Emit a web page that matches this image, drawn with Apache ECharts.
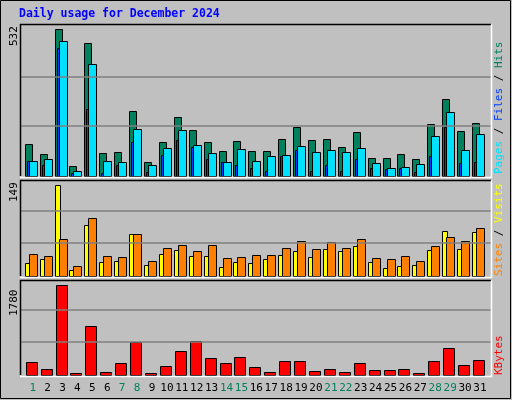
<!DOCTYPE html>
<html>
<head>
<meta charset="utf-8"/>
<title>Daily usage for December 2024</title>
<script src="https://cdn.jsdelivr.net/npm/echarts@6/dist/echarts.min.js"></script>
<style>
    html,body{margin:0;padding:0;background:#c0c0c0;}
    #chart{width:512px;height:400px;}
</style>
</head>
<body>
<div id="chart"></div>
<script>
// data
var days = [1,2,3,4,5,6,7,8,9,10,11,12,13,14,15,16,17,18,19,20,21,22,23,24,25,26,27,28,29,30,31];
var weekend = [1,7,8,14,15,21,22,28,29];
var hits   = [116,80,530,37,480,84,88,235,52,124,214,167,124,91,127,91,91,134,178,131,134,106,160,66,66,80,62,188,278,163,192];
var files  = [55,62,487,19,404,55,52,170,41,102,167,113,84,52,98,55,73,77,109,88,95,88,102,48,30,34,44,145,232,95,152];
var pages  = [55,38,462,10,242,10,38,124,16,77,131,106,62,52,41,30,19,73,95,19,41,19,62,30,26,30,16,73,178,48,52];
var visits = [21,27,149,10,83,23,24,68,18,36,42,32,32,15,23,21,27,34,41,31,44,41,49,23,13,16,18,42,73,44,71];
var sites  = [36,32,60,16,94,32,31,68,24,45,50,41,50,29,31,34,34,45,57,44,55,45,60,29,27,32,24,49,63,57,78];
var kbytes = [254,117,1780,39,959,59,235,646,39,176,469,665,333,235,352,156,59,274,274,78,117,59,235,98,98,117,39,274,528,196,293];

var C = {hits:'#00805c', files:'#00e0ff', pages:'#0040ff', visits:'#ffff00', sites:'#ff8000', kb:'#ff0000'};

function rows(){
    var out = [];
    for (var i = 0; i < days.length; i++) {
        var r = [days[i]];
        for (var a = 0; a < arguments.length; a++) r.push(arguments[a][i]);
        out.push(r);
    }
    return out;
}

// bars drawn relative to the day position, offsets in px
function makeItem(defs){
    return function(params, api){
        var kids = [];
        for (var k = 0; k < defs.length; k++) {
            var d = defs[k];
            var p0 = api.coord([api.value(0), 0]);
            var p1 = api.coord([api.value(0), api.value(k + 1)]);
            kids.push({
                type: 'rect',
                shape: {x: Math.round(p0[0] + d[0]) + 0.5, y: Math.round(p1[1]) + 0.5, width: d[1], height: Math.round(p0[1]) - Math.round(p1[1])},
                style: {fill: d[2], stroke: '#000', lineWidth: 1}
            });
        }
        return {type: 'group', children: kids};
    };
}

function gridLines(a, b){
    return {silent: true, symbol: 'none', label: {show: false},
        lineStyle: {color: '#808080', type: 'solid', width: 1.5},
        data: [{yAxis: a}, {yAxis: b}]};
}

var chart = echarts.init(document.getElementById('chart'));
var xBase = {type: 'value', min: 0.215, max: 31.74, axisLine: {show: false}, axisTick: {show: false},
    splitLine: {show: false}, axisLabel: {show: false}};
var yBase = {type: 'value', min: 0, axisLine: {show: false}, axisTick: {show: false},
    splitLine: {show: false}, axisLabel: {show: false}};

var mono = '"DejaVu Sans Mono", monospace';

var option = {
    animation: false,
    backgroundColor: '#c0c0c0',
    grid: [
        {left: 21, width: 470, top: 25, height: 151},
        {left: 21, width: 470, top: 181, height: 95},
        {left: 21, width: 470, top: 281, height: 94}
    ],
    xAxis: [
        Object.assign({gridIndex: 0}, xBase),
        Object.assign({gridIndex: 1}, xBase),
        Object.assign({gridIndex: 2}, xBase, {
            axisLabel: {show: true, customValues: days, margin: 8, fontFamily: mono, fontSize: 11,
                formatter: function(v){ return (weekend.indexOf(v) >= 0 ? '{w|' : '{d|') + v + '}'; },
                rich: {w: {color: C.hits, fontFamily: mono, fontSize: 11}, d: {color: '#000', fontFamily: mono, fontSize: 11}}}
        })
    ],
    yAxis: [
        Object.assign({gridIndex: 0, max: 546}, yBase),
        Object.assign({gridIndex: 1, max: 155}, yBase),
        Object.assign({gridIndex: 2, max: 1850}, yBase)
    ],
    graphic: [
        {type: 'rect', shape: {x: 0.5, y: 0.5, width: 510, height: 398}, style: {fill: 'none', stroke: '#000', lineWidth: 1}, z: 100},
        {type: 'polyline', shape: {points: [[20.5, 176], [20.5, 24.5], [491, 24.5]]}, style: {stroke: '#000', lineWidth: 1.5, fill: 'none'}, z: 100},
        {type: 'polyline', shape: {points: [[491.5, 24.5], [491.5, 177.5], [20, 177.5]]}, style: {stroke: '#fff', lineWidth: 1.5, fill: 'none'}, z: 100},
        {type: 'polyline', shape: {points: [[20.5, 276], [20.5, 180.5], [491, 180.5]]}, style: {stroke: '#000', lineWidth: 1.5, fill: 'none'}, z: 100},
        {type: 'polyline', shape: {points: [[491.5, 180.5], [491.5, 277.5], [20, 277.5]]}, style: {stroke: '#fff', lineWidth: 1.5, fill: 'none'}, z: 100},
        {type: 'polyline', shape: {points: [[20.5, 375], [20.5, 280.5], [491, 280.5]]}, style: {stroke: '#000', lineWidth: 1.5, fill: 'none'}, z: 100},
        {type: 'polyline', shape: {points: [[491.5, 280.5], [491.5, 376.5], [20, 376.5]]}, style: {stroke: '#fff', lineWidth: 1.5, fill: 'none'}, z: 100},
        {type: 'text', left: 19, top: 8, style: {text: 'Daily usage for December 2024', fill: '#0000ff', font: 'bold 11.5px ' + mono}},
        {type: 'text', x: 9, y: 46, rotation: Math.PI / 2, style: {text: '532', fill: '#000', font: '11px ' + mono}},
        {type: 'text', x: 9, y: 202, rotation: Math.PI / 2, style: {text: '149', fill: '#000', font: '11px ' + mono}},
        {type: 'text', x: 9, y: 316, rotation: Math.PI / 2, style: {text: '1780', fill: '#000', font: '11px ' + mono}},
        {type: 'text', x: 494, y: 174, rotation: Math.PI / 2, style: {
            text: '{p|Pages}{s| / }{f|Files}{s| / }{h|Hits}', font: '11px ' + mono,
            rich: {p: {fill: C.files, font: '11px ' + mono}, f: {fill: C.pages, font: '11px ' + mono},
                   h: {fill: C.hits, font: '11px ' + mono}, s: {fill: '#000', font: '11px ' + mono}}}},
        {type: 'text', x: 494, y: 276, rotation: Math.PI / 2, style: {
            text: '{a|Sites}{s| / }{b|Visits}', font: '11px ' + mono,
            rich: {a: {fill: C.sites, font: '11px ' + mono}, b: {fill: C.visits, font: '11px ' + mono},
                   s: {fill: '#000', font: '11px ' + mono}}}},
        {type: 'text', x: 494, y: 375, rotation: Math.PI / 2, style: {text: 'KBytes', fill: C.kb, font: '11px ' + mono}}
    ],
    series: [
        {type: 'custom', xAxisIndex: 0, yAxisIndex: 0, data: rows(hits, files, pages),
            renderItem: makeItem([[-8, 7, C.hits], [-4, 8, C.files], [-6, 2, C.pages]]),
            markLine: gridLines(180, 360), z: 3},
        {type: 'custom', xAxisIndex: 1, yAxisIndex: 1, data: rows(visits, sites),
            renderItem: makeItem([[-8, 5, C.visits], [-4, 8, C.sites]]),
            markLine: gridLines(53.5, 107), z: 3},
        {type: 'custom', xAxisIndex: 2, yAxisIndex: 2, data: rows(kbytes),
            renderItem: makeItem([[-7, 11, C.kb]]),
            markLine: gridLines(645, 1290), z: 3}
    ]
};
chart.setOption(option);
</script>
</body>
</html>
